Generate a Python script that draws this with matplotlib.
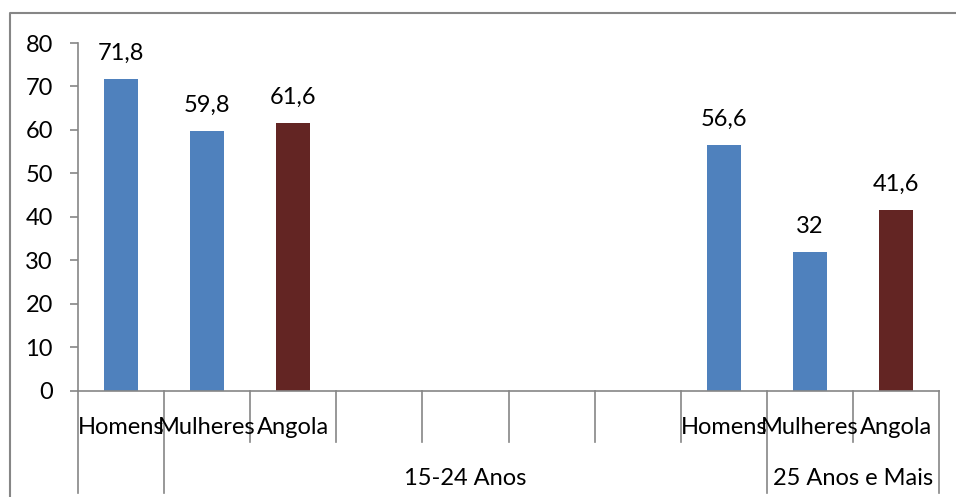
import matplotlib
matplotlib.use("Agg")
import matplotlib.pyplot as plt
import matplotlib.transforms as mtransforms
from matplotlib.lines import Line2D
import numpy as np

plt.rcParams['font.family'] = ['Lato', 'DejaVu Sans']

# Categories (first-level labels) and the age groups they belong to
categories = ["Homens", "Mulheres", "Angola", "", "", "", "", "Homens", "Mulheres", "Angola"]
groups = ["", "15-24 Anos", "25 Anos e Mais"]
group_sizes = [1, 7, 2]

# Values per category (None where a category has no bar)
values = [71.8, 59.8, 61.6, None, None, None, None, 56.6, 32, 41.6]
kinds = ["sex", "sex", "total", None, None, None, None, "sex", "sex", "total"]

colors = {"sex": "#4F81BD", "total": "#632523"}
yticks = [0, 10, 20, 30, 40, 50, 60, 70, 80]

W, H = 956, 497
fig = plt.figure(figsize=(W / 100, H / 100), dpi=100)
x0, x1 = 78, 939
y0, ytop = 390.5, 43
ax = fig.add_axes([x0 / W, (H - y0) / H, (x1 - x0) / W, (y0 - ytop) / H])

gray = "#868686"
fs = 17

x = np.arange(len(categories))
for xi, v, k in zip(x, values, kinds):
    if v is None:
        continue
    ax.bar(xi, v, width=0.4, color=colors[k], edgecolor="none", zorder=2)
    label = f"{v:g}".replace(".", ",")
    ax.annotate(label, (xi, v), xytext=(0, 13.5), textcoords="offset points",
                ha="center", va="baseline", fontsize=fs, color="black")

ax.set_xlim(-0.5, len(categories) - 0.5)
ax.set_ylim(0, 80)
ax.set_yticks(yticks)
ax.set_yticklabels([str(t) for t in yticks], fontsize=fs)
ax.tick_params(axis="y", length=6, width=1.2, color=gray, pad=12, direction="out")
ax.set_xticks([])
for s in ("top", "right"):
    ax.spines[s].set_visible(False)
for s in ("left", "bottom"):
    ax.spines[s].set_color(gray)
    ax.spines[s].set_linewidth(1.2)

ax_h = y0 - ytop
trans = mtransforms.blended_transform_factory(ax.transData, ax.transAxes)

# Group boundaries (long separators) and category boundaries (short separators)
bounds = np.cumsum([0] + group_sizes)
short_y = -(442 - y0) / ax_h
long_y = -(493 - y0) / ax_h
for b in range(len(categories) + 1):
    yend = long_y if b in bounds else short_y
    ax.add_line(Line2D([b - 0.5, b - 0.5], [0, yend], transform=trans,
                       color=gray, lw=1.2, clip_on=False))

# Category labels
cat_base = -(434 - y0) / ax_h
for xi, c in zip(x, categories):
    if c:
        ax.text(xi, cat_base, c, transform=trans, ha="center", va="baseline",
                fontsize=fs, color="black", clip_on=False)

# Group labels
grp_base = -(485 - y0) / ax_h
for g, a, b in zip(groups, bounds[:-1], bounds[1:]):
    if g:
        ax.text((a + b - 1) / 2, grp_base, g, transform=trans, ha="center",
                va="baseline", fontsize=fs, color="black", clip_on=False)

# Chart-area frame
fx = 9.5 / W
fy = 1 - 12.5 / H
fig.add_artist(Line2D([fx, fx, 1.0], [0.0, fy, fy], transform=fig.transFigure,
                      color=gray, lw=1.5))

fig.savefig("out.png", dpi=100, facecolor="white")
